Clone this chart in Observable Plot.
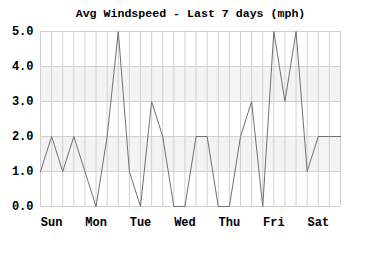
<!DOCTYPE html>
<html>
<head>
<meta charset="utf-8">
<script src="https://cdn.jsdelivr.net/npm/d3@7"></script>
<script src="https://cdn.jsdelivr.net/npm/@observablehq/plot@0.6"></script>
<style>
  html, body { margin: 0; padding: 0; background: #fff; }
  svg { display: block; }
</style>
</head>
<body>
<div id="chart"></div>
<script>
const title = "Avg Windspeed - Last 7 days (mph)";
const days = ["Sun", "Mon", "Tue", "Wed", "Thu", "Fri", "Sat"];
const windspeed = [1, 2, 1, 2, 1, 0, 2, 5, 1, 0, 3, 2, 0, 0, 2, 2, 0, 0, 2, 3, 0, 5, 3, 5, 1, 2, 2, 2];
const yTicks = [0, 1, 2, 3, 4, 5];
const bandLow = [1, 3];
const bandHigh = [2, 4];
const samplesPerDay = 4;

const data = windspeed.map((v, i) => ({ i, v }));
const bands = bandLow.map((lo, k) => ({ lo, hi: bandHigh[k] }));
const dayTicks = days.map((d, k) => k * samplesPerDay + 1);
const allTicks = data.map(d => d.i);

const font = "'Liberation Mono', 'DejaVu Sans Mono', monospace";

const chart = Plot.plot({
  width: 380,
  height: 260,
  marginLeft: 40,
  marginRight: 40,
  marginTop: 31,
  marginBottom: 54,
  style: { fontFamily: font, fontSize: "12px", fontWeight: "bold", background: "#fff", color: "#000" },
  x: { domain: [0, windspeed.length - 1] },
  y: { domain: [0, 5] },
  marks: [
    Plot.rectY(bands, { y1: "lo", y2: "hi", fill: "#f3f3f3" }),
    Plot.gridX({ ticks: allTicks, stroke: "#d0d0d0", strokeOpacity: 1 }),
    Plot.gridY({ ticks: yTicks, stroke: "#d0d0d0", strokeOpacity: 1 }),
    Plot.axisY({ ticks: yTicks, tickFormat: d3.format(".1f"), tickSize: 0, tickPadding: 7, label: null, fontSize: 12 }),
    Plot.axisX({ ticks: dayTicks, tickFormat: t => days[(t - 1) / samplesPerDay], tickSize: 0, tickPadding: 11, label: null, fontSize: 12 }),
    Plot.lineY(data, { x: "i", y: "v", stroke: "#707070", strokeWidth: 1 }),
    Plot.text([title], { frameAnchor: "top", dy: -23, text: d => d, fontSize: 11.6, fontWeight: "bold", fill: "#000" })
  ]
});
document.getElementById("chart").appendChild(chart);
</script>
</body>
</html>
